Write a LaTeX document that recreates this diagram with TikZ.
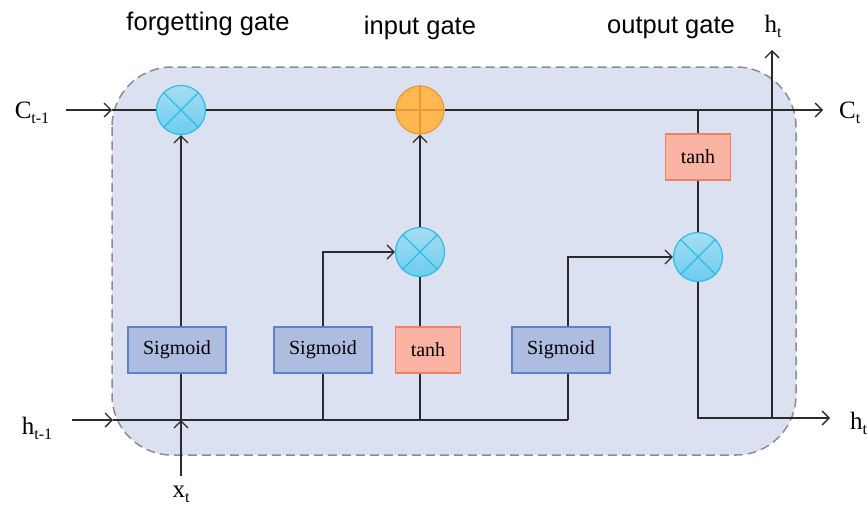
\documentclass[tikz,border=0pt]{standalone}
\usepackage{fontspec}
\setmainfont{Liberation Serif}
\newfontfamily\headfont{Liberation Sans}
\usetikzlibrary{arrows.meta,calc}

\definecolor{cellfill}{HTML}{DBE1F1}
\definecolor{celledge}{HTML}{8C8C8C}
\definecolor{wirecol}{HTML}{2B2B2B}
\definecolor{sigfill}{HTML}{AEBCDF}
\definecolor{sigedge}{HTML}{5B82C9}
\definecolor{tanhfill}{HTML}{FBB3A3}
\definecolor{tanhedge}{HTML}{EF7F6C}
\definecolor{multtop}{HTML}{A6DDF2}
\definecolor{multbot}{HTML}{6CCDEE}
\definecolor{multedge}{HTML}{2EBCE6}
\definecolor{addfill}{HTML}{FFB84F}
\definecolor{addedge}{HTML}{E39A3C}

% large serif label with a lowered subscript
\newcommand\vlabel[2]{{\fontsize{25}{28}\selectfont #1}\raisebox{-5pt}{\fontsize{16}{18}\selectfont #2}}

\begin{document}
\begin{tikzpicture}[x=1pt,y=-1pt,
  wire/.style={draw=wirecol,line width=1.3pt},
  arr/.style={wire,-{Straight Barb[length=7pt,width=14pt,line width=1.3pt]}},
  gatebox/.style={rectangle,line width=1.2pt,minimum height=46pt,inner sep=0pt,
    font=\fontsize{20}{24}\selectfont},
  sbox/.style={gatebox,draw=sigedge,fill=sigfill,minimum width=98pt},
  tbox/.style={gatebox,draw=tanhedge,fill=tanhfill,minimum width=65pt},
  mult/.style={circle,draw=multedge,line width=1.2pt,top color=multtop,
    bottom color=multbot,minimum size=49pt,inner sep=0pt},
  addc/.style={circle,draw=addedge,line width=1.2pt,fill=addfill,
    minimum size=48pt,inner sep=0pt},
  head/.style={font=\headfont\fontsize{25.5}{30}\selectfont,text=black},
  vlab/.style={inner sep=0pt,text=black}
]
\useasboundingbox (0,0) rectangle (867,509);

% cell body
\draw[draw=celledge,line width=1.5pt,dash pattern=on 9pt off 5pt,fill=cellfill,
  rounded corners=60pt] (112,67) rectangle (796,455);

% gate headings
\node[head] (hf) at (208,24) {forgetting gate};
\node[head] (hi) at (420,28) {input gate};
\node[head] (ho) at (671,28) {output gate};

% operators
\node[mult] (fm) at (181,110) {};
\node[addc] (pa) at (420,110) {};
\node[mult] (im) at (420,252) {};
\node[mult] (om) at (698,257) {};
\draw[multedge,line width=1.2pt] (fm.45) -- (fm.225) (fm.135) -- (fm.315);
\draw[multedge,line width=1.2pt] (im.45) -- (im.225) (im.135) -- (im.315);
\draw[multedge,line width=1.2pt] (om.45) -- (om.225) (om.135) -- (om.315);
\draw[addedge,line width=1.2pt] (pa.north) -- (pa.south) (pa.west) -- (pa.east);

% activation boxes
\node[sbox] (s1) at (177,350) {Sigmoid};
\node[sbox] (s2) at (323,350) {Sigmoid};
\node[tbox] (t1) at (428,350) {tanh};
\node[sbox] (s3) at (561,350) {Sigmoid};
\node[tbox] (t2) at (698,157) {tanh};

% free ends and junctions
\coordinate (cin) at (66,110);
\coordinate (cedge) at (112,110);
\coordinate (cout) at (823,110);
\coordinate (hin) at (72,420);
\coordinate (hedge) at (113,420);
\coordinate (hbus) at (568,420);
\coordinate (xin) at (181,476);
\coordinate (ojoin) at (698,418);
\coordinate (hjoin) at (772,418);
\coordinate (hout) at (830,418);
\coordinate (htop) at (772,50);

% outer labels
\node[vlab] (lc0) at (32,113) {\vlabel{C}{t-1}};
\node[vlab] (lh0) at (37,428) {\vlabel{h}{t-1}};
\node[vlab] (lx) at (181,494) {\vlabel{x}{t}};
\node[vlab] (lht) at (773,26) {\vlabel{h}{t}};
\node[vlab,anchor=west] (lct) at (839,113) {\vlabel{C}{t}};
\node[vlab,anchor=west] (lho) at (850,423) {\vlabel{h}{t}};

% cell state
\draw[arr] (cin) -- (cedge);
\draw[wire] (cedge) -- (fm.west) (fm.east) -- (pa.west);
\draw[arr] (pa.east) -- (cout);

% hidden input bus
\draw[arr] (hin) -- (hedge);
\draw[wire] (hedge) -- (hbus);

% forgetting gate
\draw[arr] (xin) -- (fm |- hedge);
\draw[wire] (fm |- hedge) -- (fm |- s1.south);
\draw[arr] (fm |- s1.north) -- (fm.south);

% input gate
\draw[wire] (s2 |- hedge) -- (s2.south);
\draw[arr] (s2.north) |- (im.west);
\draw[wire] (im |- hedge) -- (im |- t1.south);
\draw[wire] (im |- t1.north) -- (im.south);
\draw[arr] (im.north) -- (pa.south);

% output gate
\draw[wire] (hbus) -- (hbus |- s3.south);
\draw[arr] (hbus |- s3.north) |- (om.west);
\draw[wire] (t2.north) -- (t2 |- cout);
\draw[wire] (t2.south) -- (om.north);
\draw[wire] (om.south) -- (ojoin) -- (hjoin);
\draw[arr] (hjoin) -- (hout);
\draw[arr] (hjoin) -- (htop);
\end{tikzpicture}
\end{document}
